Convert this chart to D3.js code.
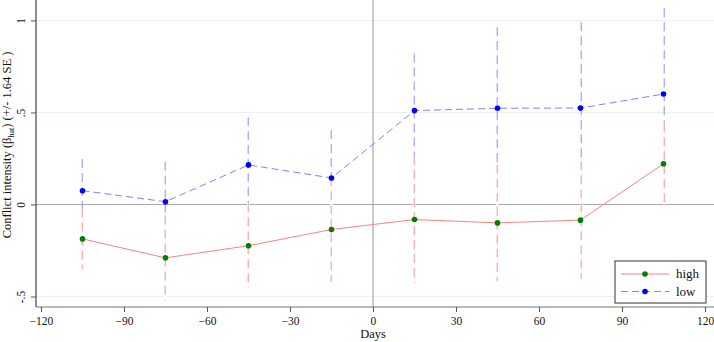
<!DOCTYPE html>
<html>
<head>
<meta charset="utf-8">
<script src="https://cdn.jsdelivr.net/npm/d3@7"></script>
<style>
  body { margin: 0; background: #fff; }
  svg { display: block; font-family: "Liberation Serif", "DejaVu Serif", serif; }
</style>
</head>
<body>
<svg id="chart" width="714" height="342"></svg>
<script>
// data
var days = [-105, -75, -45, -15, 15, 45, 75, 105];
var highEst = [-0.187, -0.29, -0.224, -0.136, -0.082, -0.1, -0.085, 0.221];
var highHW  = [0.165, 0.23, 0.23, 0.284, 0.345, 0.316, 0.32, 0.221];
var lowEst  = [0.075, 0.015, 0.215, 0.144, 0.51, 0.523, 0.524, 0.60];
var lowHW   = [0.172, 0.218, 0.26, 0.26, 0.31, 0.44, 0.466, 0.466];
var xTicks = [-120, -90, -60, -30, 0, 30, 60, 90, 120];
var yTicks = [-0.5, 0, 0.5, 1];
var yTickLabels = ["-.5", "0", ".5", "1"];

var svg = d3.select("#chart"),
    margin = {top: 0, right: 0, bottom: 35, left: 36},
    width = 714 - margin.left - margin.right,
    height = 342 - margin.top - margin.bottom,
    g = svg.append("g").attr("transform", "translate(" + margin.left + "," + margin.top + ")");

var xScale = d3.scaleLinear().domain([-121.8, 123.25]).range([0, width]),
    yScale = d3.scaleLinear().domain([-0.557, 1.111]).range([height, 0]);

function rows(est, hw) {
  return days.map(function(d, i) {
    return {day: d, est: est[i], lo: est[i] - hw[i], hi: est[i] + hw[i]};
  });
}
var series = [
  {id: "low", values: rows(lowEst, lowHW), line: "#8080ff", dot: "#0000ff", dash: "7,4"},
  {id: "high", values: rows(highEst, highHW), line: "#ff8080", dot: "#008000", dash: null}
];

// gridlines
g.selectAll(".grid")
  .data(yTicks.filter(function(d) { return d !== 0; }))
  .enter().append("line")
    .attr("x1", 0).attr("x2", width)
    .attr("y1", function(d) { return yScale(d); })
    .attr("y2", function(d) { return yScale(d); })
    .attr("stroke", "#eaf1f3").attr("stroke-width", 1);

// reference lines
g.append("line")
    .attr("x1", 0).attr("x2", width)
    .attr("y1", yScale(0)).attr("y2", yScale(0))
    .attr("stroke", "#a8a8a8").attr("stroke-width", 1.2);
g.append("line")
    .attr("x1", xScale(0)).attr("x2", xScale(0))
    .attr("y1", 0).attr("y2", height)
    .attr("stroke", "#a8a8a8").attr("stroke-width", 1.2);

var line = d3.line()
    .x(function(d) { return xScale(d.day); })
    .y(function(d) { return yScale(d.est); });

// bar x snapped to whole pixels so every bar gets the same soft look
function barX(d) { return Math.round(xScale(d.day)) + 0.2; }

// CI bars, low first so high sits on top (white under-stroke hides the low bar)
series.forEach(function(s, k) {
  var ci = g.selectAll(".ci-" + s.id)
    .data(s.values)
    .enter().append("g")
      .attr("class", "ci-" + s.id);
  if (k === 1) {
    ci.append("line")
        .attr("x1", barX).attr("x2", barX)
        .attr("y1", function(d) { return yScale(d.hi); })
        .attr("y2", function(d) { return yScale(d.lo); })
        .attr("stroke", "#fff").attr("stroke-width", 2.5);
  }
  ci.append("line")
      .attr("x1", barX).attr("x2", barX)
      .attr("y1", function(d) { return yScale(d.hi); })
      .attr("y2", function(d) { return yScale(d.lo); })
      .attr("stroke", s.line).attr("stroke-width", 0.9)
      .attr("stroke-dasharray", "9,5");
});

series.forEach(function(s) {
  g.append("path")
      .datum(s.values)
      .attr("d", line)
      .attr("fill", "none")
      .attr("stroke", s.line).attr("stroke-width", 1)
      .attr("stroke-dasharray", s.dash);
  g.selectAll(".pt-" + s.id)
    .data(s.values)
    .enter().append("circle")
      .attr("class", "pt-" + s.id)
      .attr("r", 2.8)
      .attr("cx", function(d) { return xScale(d.day); })
      .attr("cy", function(d) { return yScale(d.est); })
      .attr("fill", s.dot);
});

// axes
var xAxis = d3.axisBottom(xScale).tickValues(xTicks).tickSize(5).tickPadding(5);
var yAxis = d3.axisLeft(yScale).tickValues(yTicks).tickSize(5)
    .tickFormat(function(d, i) { return yTickLabels[i]; });

var gx = g.append("g")
    .attr("transform", "translate(0," + height + ")")
    .call(xAxis);
gx.select(".domain").attr("d", "M0,0H" + width).attr("stroke", "#777").attr("stroke-width", 1.2);
gx.selectAll(".tick line").attr("stroke", "#555");
gx.selectAll(".tick text").attr("font-size", 11.5).attr("fill", "#111")
    .attr("font-family", "Liberation Serif");

var gy = g.append("g").call(yAxis);
gy.select(".domain").attr("d", "M0," + height + "V0").attr("stroke", "#444").attr("stroke-width", 1.2);
gy.selectAll(".tick line").attr("stroke", "#555");
gy.selectAll(".tick text")
    .attr("font-size", 11.5).attr("fill", "#111")
    .attr("font-family", "Liberation Serif")
    .attr("x", null).attr("dy", null)
    .attr("text-anchor", "middle")
    .attr("transform", "translate(-11,0) rotate(-90)");

// axis titles
svg.append("text")
    .attr("x", margin.left + xScale(0)).attr("y", 338)
    .attr("text-anchor", "middle")
    .attr("font-size", 12.5).attr("fill", "#111")
    .text("Days");

var yt = svg.append("text")
    .attr("transform", "translate(11,145) rotate(-90)")
    .attr("text-anchor", "middle")
    .attr("font-size", 12.5).attr("fill", "#111");
yt.append("tspan").text("Conflict intensity (\u03B2");
yt.append("tspan").attr("font-size", 8).attr("dy", 3).text("hat");
yt.append("tspan").attr("dy", -3).text(") (+/- 1.64 SE )");

// legend
var legend = svg.append("g").attr("transform", "translate(615,261)");
legend.append("rect")
    .attr("width", 91).attr("height", 42)
    .attr("fill", "#fff").attr("stroke", "#333").attr("stroke-width", 1);
[series[1], series[0]].forEach(function(s, i) {
  var y = 13 + i * 17.5;
  legend.append("line")
      .attr("x1", 6).attr("x2", 54).attr("y1", y).attr("y2", y)
      .attr("stroke", s.line).attr("stroke-dasharray", s.dash);
  legend.append("circle").attr("cx", 30).attr("cy", y).attr("r", 2.8).attr("fill", s.dot);
  legend.append("text")
      .attr("x", 61).attr("y", y + 4)
      .attr("font-size", 13).attr("fill", "#111")
      .text(s.id);
});
</script>
</body>
</html>
